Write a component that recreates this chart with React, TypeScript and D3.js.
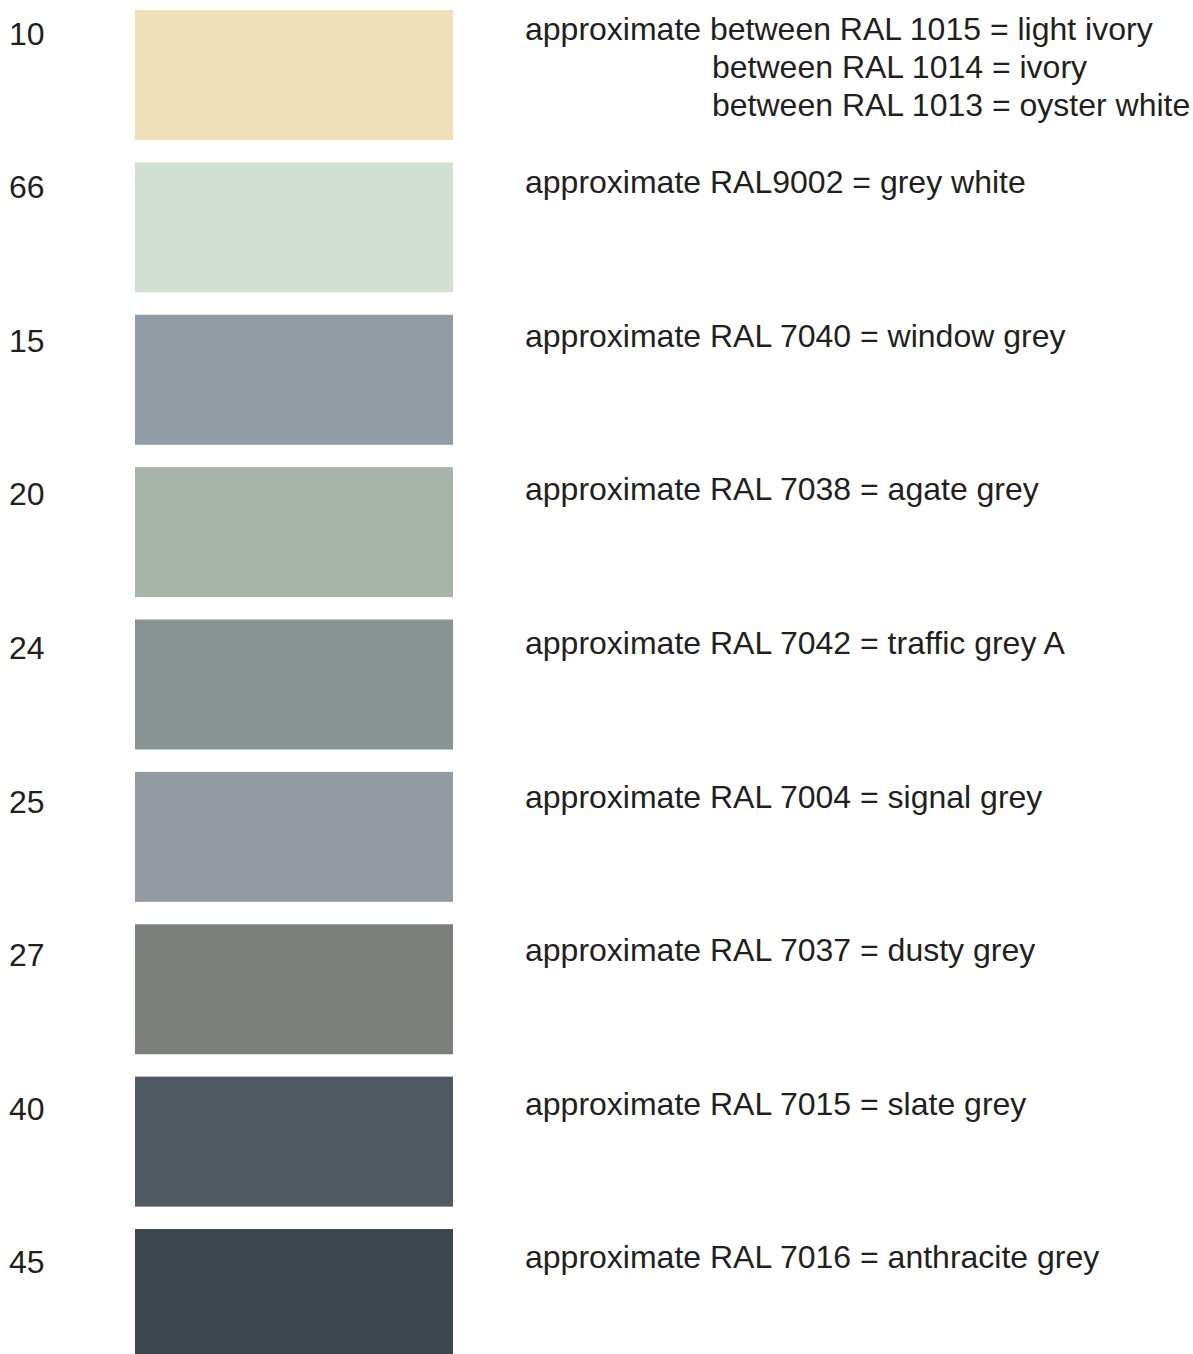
import * as d3 from "d3";

// swatch codes, colours and descriptions (top to bottom)
const codes = ["10", "66", "15", "20", "24", "25", "27", "40", "45"];
const colors = ["#f0e0b9", "#d4dfd4", "#929ca5", "#a6b4aa", "#899393", "#939aa2", "#7b807d", "#4f5961", "#3b474d"];
const descriptions = [
  ["approximate between RAL 1015 = light ivory", "between RAL 1014 = ivory", "between RAL 1013 = oyster white"],
  ["approximate RAL9002 = grey white"],
  ["approximate RAL 7040 = window grey"],
  ["approximate RAL 7038 = agate grey"],
  ["approximate RAL 7042 = traffic grey A"],
  ["approximate RAL 7004 = signal grey"],
  ["approximate RAL 7037 = dusty grey"],
  ["approximate RAL 7015 = slate grey"],
  ["approximate RAL 7016 = anthracite grey"],
];

const width = 1193;
const height = 1354;
const font = "'Liberation Sans', Arial, Helvetica, sans-serif";
const fontSize = 32;
const ink = "#231f20";

export default function App() {
  // swatch rows
  const y = d3.scaleBand<string>()
    .domain(codes)
    .range([10, 1359])
    .paddingInner(0.147)
    .paddingOuter(0);

  // text rows (baselines of the code labels)
  const ty = d3.scalePoint<string>()
    .domain(codes)
    .range([44.5, 44.5 + 8 * 153.6]);

  const x0 = 135;
  const x1 = 453;
  const textX = 525;
  const indentX = 712;
  const lineGap = 38.3;

  return (
    <svg width={width} height={height} style={{ position: "absolute", left: 0, top: 0, background: "#fff" }}>
      <rect width={width} height={height} fill="#fff" />
      {codes.map((c, i) => (
        <g key={c}>
          <rect x={x0} y={y(c)} width={x1 - x0} height={y.bandwidth()} fill={colors[i]} />
          <text x={9} y={ty(c)} fontFamily={font} fontSize={fontSize} fill={ink}>{c}</text>
          {descriptions[i].map((line, j) => (
            <text
              key={j}
              x={j === 0 ? textX : indentX}
              y={(ty(c) as number) - 5 + j * lineGap}
              fontFamily={font}
              fontSize={fontSize}
              fill={ink}
            >
              {line}
            </text>
          ))}
        </g>
      ))}
    </svg>
  );
}
